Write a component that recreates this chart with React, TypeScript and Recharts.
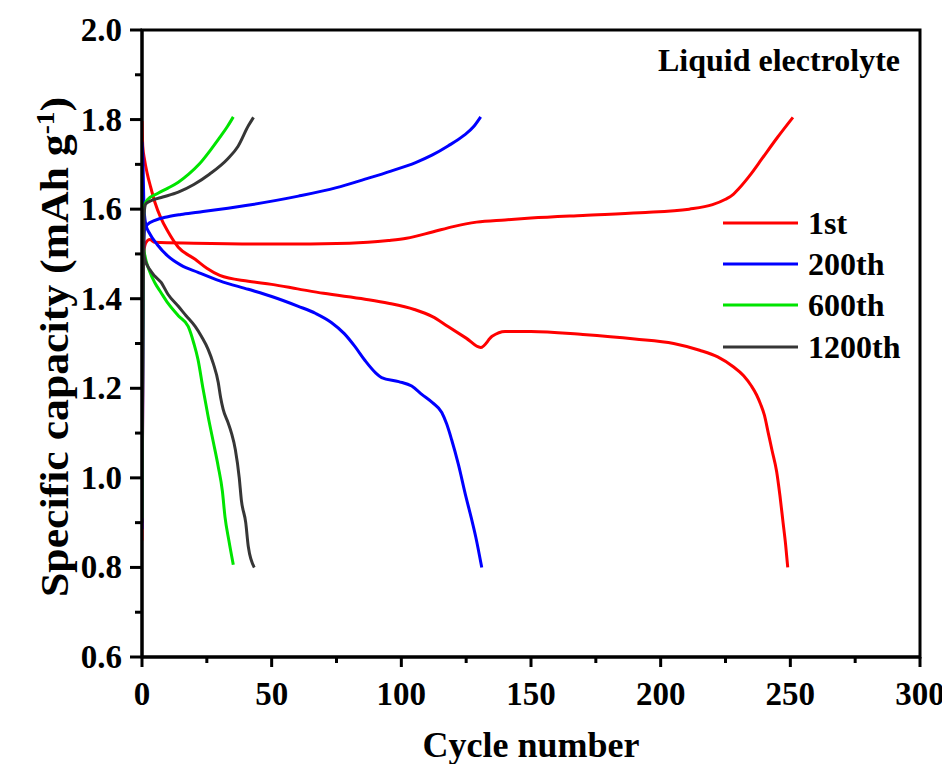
import React from "react";
import { LineChart, Line, XAxis, YAxis, ReferenceArea } from "recharts";

// cycle labels and colours
const cycleNames = ["1st", "200th", "600th", "1200th"];
const cycleColors = ["#ff0000", "#0000ff", "#00e400", "#363636"];

// [cycle number, specific capacity]
const c1Charge = [
  [0, 0.86], [0.3, 1.2], [0.6, 1.5], [1.5, 1.525], [3, 1.532], [5, 1.526], [20, 1.524],
  [50, 1.522], [80, 1.524], [95, 1.53], [102, 1.535], [112, 1.549], [120, 1.561],
  [129, 1.571], [140, 1.576], [150, 1.58], [170, 1.586], [192, 1.592], [211, 1.6],
  [220, 1.61], [225, 1.622], [228, 1.633], [230, 1.645], [235, 1.68], [239, 1.712],
  [245, 1.76], [251, 1.805],
];
const c1Discharge = [
  [0, 1.797], [0.3, 1.74], [1, 1.71], [2, 1.68], [3.3, 1.65], [5, 1.615], [7.3, 1.58],
  [10, 1.55], [14, 1.515], [20.5, 1.488], [25, 1.468], [30, 1.452], [41, 1.439],
  [50, 1.432], [60, 1.422], [70, 1.412], [86, 1.399], [95, 1.39], [105, 1.376],
  [112, 1.36], [118, 1.338], [125, 1.312], [130.6, 1.291], [135, 1.316], [140, 1.327],
  [150, 1.327], [170, 1.32], [190, 1.31], [205, 1.3], [215, 1.285], [222, 1.27],
  [228, 1.248], [232, 1.228], [235, 1.205], [237, 1.185], [238.5, 1.165], [240, 1.14],
  [241.5, 1.1], [243, 1.06], [244.7, 1.015], [246, 0.96], [247.2, 0.9], [248.2, 0.85],
  [249, 0.8],
];
const c200Charge = [
  [0, 0.885], [0.3, 1.2], [0.6, 1.5], [1, 1.555], [2, 1.565], [5, 1.575], [10, 1.583],
  [15, 1.588], [21.6, 1.593], [40, 1.608], [60.3, 1.629], [75, 1.648], [86, 1.667],
  [96, 1.685], [105.5, 1.704], [112, 1.721], [118, 1.741], [124, 1.764], [128, 1.785],
  [130.6, 1.806],
];
const c200Discharge = [
  [0, 1.75], [0.3, 1.72], [0.8, 1.6], [1.5, 1.565], [3, 1.545], [6, 1.52], [10, 1.495],
  [15, 1.475], [21.6, 1.459], [30, 1.44], [41, 1.421], [50, 1.405], [60.3, 1.383],
  [67, 1.367], [73, 1.347], [78, 1.322], [82, 1.294], [86, 1.262], [90, 1.235],
  [92.4, 1.224], [99, 1.215], [104, 1.205], [108, 1.186], [112, 1.168], [115.6, 1.146],
  [117.5, 1.12], [119.4, 1.085], [122, 1.03], [124.9, 0.958], [127, 0.91],
  [128.7, 0.868], [131, 0.8],
];
const c600Charge = [
  [0, 0.91], [0.3, 1.3], [0.6, 1.58], [1, 1.61], [2.3, 1.622], [6, 1.635], [10, 1.647],
  [14, 1.66], [18, 1.678], [22, 1.7], [26.7, 1.734], [30, 1.76], [33, 1.785], [35.2, 1.806],
];
const c600Discharge = [
  [0, 1.6], [0.5, 1.52], [1, 1.5], [3, 1.46], [5, 1.435], [7.3, 1.414], [10, 1.39],
  [14, 1.362], [17.8, 1.338], [20, 1.3], [21.6, 1.264], [23.5, 1.2], [25.5, 1.137],
  [27.5, 1.08], [29.4, 1.025], [31, 0.97], [32, 0.913], [33.5, 0.86], [35.2, 0.806],
];
const c1200Charge = [
  [0, 0.9], [0.3, 1.3], [0.8, 1.59], [1.5, 1.612], [4, 1.62], [8, 1.627], [14, 1.638],
  [20, 1.655], [26, 1.678], [33, 1.712], [37, 1.74], [41, 1.786], [43, 1.805],
];
const c1200Discharge = [
  [0, 1.6], [0.5, 1.52], [1, 1.49], [3, 1.465], [5, 1.45], [7.3, 1.437], [10, 1.41],
  [14, 1.383], [17, 1.362], [20.5, 1.338], [23, 1.315], [25.5, 1.287], [27.5, 1.255],
  [29.4, 1.213], [30.3, 1.18], [31.3, 1.153], [33.2, 1.123], [34.5, 1.1], [36, 1.063],
  [37.5, 1.0], [38.3, 0.951], [40, 0.9], [41, 0.846], [43.3, 0.8],
];

const xTicks = [0, 25, 50, 75, 100, 125, 150, 175, 200, 225, 250, 275, 300];
const yTicks = [0.6, 0.7, 0.8, 0.9, 1.0, 1.1, 1.2, 1.3, 1.4, 1.5, 1.6, 1.7, 1.8, 1.9, 2.0];

const FONT = "'Liberation Serif', 'Times New Roman', serif";

const toPoints = (arr: number[][]) => arr.map(([x, y]) => ({ x, y }));

const curves = [
  { key: "c1c", data: c1Charge, idx: 0 },
  { key: "c1d", data: c1Discharge, idx: 0 },
  { key: "c200c", data: c200Charge, idx: 1 },
  { key: "c200d", data: c200Discharge, idx: 1 },
  { key: "c600c", data: c600Charge, idx: 2 },
  { key: "c600d", data: c600Discharge, idx: 2 },
  { key: "c1200c", data: c1200Charge, idx: 3 },
  { key: "c1200d", data: c1200Discharge, idx: 3 },
];

function XTick({ x, y, payload }: any) {
  const v = payload.value;
  const major = v % 50 === 0;
  return (
    <g>
      <line x1={x} x2={x} y1={y} y2={y + (major ? 10 : 6)} stroke="#000" strokeWidth={3} />
      {major && (
        <text x={x} y={y + 48} textAnchor="middle" fontFamily={FONT} fontWeight="bold" fontSize={33} fill="#000">
          {v}
        </text>
      )}
    </g>
  );
}

function YTick({ x, y, payload }: any) {
  const v = payload.value;
  const major = Math.round(v * 10) % 2 === 0;
  return (
    <g>
      <line x1={x - (major ? 12 : 7)} x2={x} y1={y} y2={y} stroke="#000" strokeWidth={3} />
      {major && (
        <text x={x - 20} y={y + 11} textAnchor="end" fontFamily={FONT} fontWeight="bold" fontSize={33} fill="#000">
          {v.toFixed(1)}
        </text>
      )}
    </g>
  );
}

function YLabel() {
  return (
    <text
      x={60}
      y={339}
      transform="rotate(-90 60 339)"
      textAnchor="middle"
      fontFamily={FONT}
      fontWeight="bold"
      fontSize={40}
      textLength={500}
      lengthAdjust="spacingAndGlyphs"
      fill="#000"
    >
      Specific capacity (mAh g
      <tspan dy={-14} fontSize={25}>-1</tspan>
      <tspan dy={14}>)</tspan>
    </text>
  );
}

function XLabel() {
  return (
    <text x={523} y={749} textAnchor="middle" fontFamily={FONT} fontWeight="bold" fontSize={36} fill="#000">
      Cycle number
    </text>
  );
}

function LegendBox() {
  return (
    <div
      style={{
        position: "absolute",
        left: 715,
        top: 194,
        fontFamily: FONT,
        fontWeight: "bold",
        fontSize: 32,
        lineHeight: 1,
      }}
    >
      {cycleNames.map((name, i) => (
        <div key={name} style={{ display: "flex", alignItems: "center", height: 41.3 }}>
          <svg width={75} height={6}>
            <line x1={0} x2={75} y1={3} y2={3} stroke={cycleColors[i]} strokeWidth={3} />
          </svg>
          <span style={{ marginLeft: 10 }}>{name}</span>
        </div>
      ))}
    </div>
  );
}

export default function App() {
  return (
    <div style={{ position: "relative", width: 942, height: 756 }}>
      <LineChart width={942} height={764} margin={{ top: 22, right: 30, bottom: 0, left: 0 }}>
        <XAxis
          dataKey="x"
          type="number"
          domain={[0, 300]}
          ticks={xTicks}
          interval={0}
          tickSize={0}
          tickMargin={0}
          tickLine={false}
          tick={(p: any) => <XTick {...p} />}
          axisLine={{ stroke: "#000", strokeWidth: 3 }}
          height={115}
          allowDataOverflow
          label={<XLabel />}
        />
        <YAxis
          type="number"
          domain={[0.6, 2.0]}
          ticks={yTicks}
          interval={0}
          tickSize={0}
          tickMargin={0}
          tickLine={false}
          tick={(p: any) => <YTick {...p} />}
          axisLine={{ stroke: "#000", strokeWidth: 3 }}
          width={134}
          allowDataOverflow
          label={<YLabel />}
        />
        <ReferenceArea x1={0} x2={300} y1={0.6} y2={2.0} fill="none" stroke="#000" strokeWidth={3} />
        {curves.map((c) => (
          <Line
            key={c.key}
            data={toPoints(c.data)}
            dataKey="y"
            type="monotone"
            stroke={cycleColors[c.idx]}
            strokeWidth={3}
            dot={false}
            activeDot={false}
            isAnimationActive={false}
          />
        ))}
      </LineChart>
      <LegendBox />
      <div
        style={{
          position: "absolute",
          top: 36,
          left: 650,
          fontFamily: FONT,
          fontWeight: "bold",
          fontSize: 32,
          lineHeight: 1,
          whiteSpace: "nowrap",
        }}
      >
        Liquid electrolyte
      </div>
    </div>
  );
}
